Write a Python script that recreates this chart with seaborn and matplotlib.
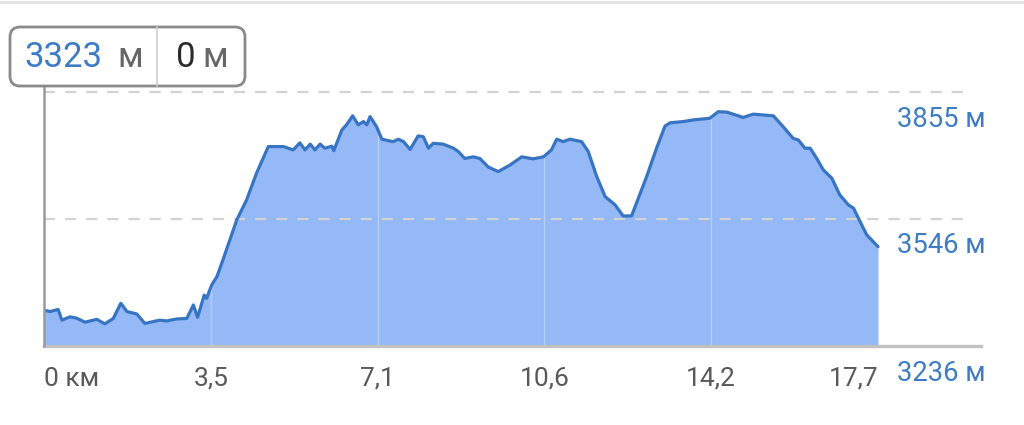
import pandas as pd
import matplotlib
matplotlib.use("Agg")
import matplotlib.pyplot as plt
import matplotlib.transforms as mtransforms
from matplotlib.patches import FancyBboxPatch
from matplotlib.lines import Line2D
import seaborn as sns

# elevation profile: distance (km) / elevation (m)
distance_km = [0.00, 0.13, 0.30, 0.38, 0.55, 0.69, 0.87, 1.12, 1.29, 1.47,
               1.63, 1.76, 1.97, 2.14, 2.46, 2.60, 2.82, 3.03, 3.17, 3.26,
               3.40, 3.45, 3.56, 3.67, 3.81, 4.09, 4.30, 4.51, 4.76, 5.08,
               5.29, 5.43, 5.54, 5.65, 5.75, 5.86, 5.96, 6.11, 6.15, 6.32,
               6.42, 6.55, 6.67, 6.78, 6.85, 6.92, 7.06, 7.17, 7.41, 7.52,
               7.63, 7.77, 7.94, 8.05, 8.16, 8.26, 8.47, 8.69, 8.79, 8.93,
               9.11, 9.25, 9.43, 9.64, 9.89, 10.14, 10.38, 10.60, 10.77, 10.88,
               11.02, 11.16, 11.41, 11.55, 11.73, 11.91, 12.12, 12.29, 12.47, 12.79,
               13.00, 13.18, 13.29, 13.57, 13.78, 14.13, 14.31, 14.49, 14.84, 15.05,
               15.48, 15.69, 15.90, 16.01, 16.15, 16.26, 16.40, 16.54, 16.72, 16.89,
               17.07, 17.18, 17.32, 17.46, 17.70]
elevation_m = [3323, 3320, 3325, 3299, 3307, 3304, 3294, 3301, 3290, 3303,
               3340, 3320, 3314, 3291, 3299, 3297, 3302, 3303, 3336, 3306,
               3360, 3352, 3385, 3405, 3450, 3543, 3592, 3657, 3722, 3722,
               3714, 3731, 3714, 3728, 3714, 3728, 3718, 3723, 3712, 3762,
               3775, 3797, 3775, 3783, 3775, 3795, 3770, 3740, 3734, 3740,
               3734, 3715, 3748, 3746, 3718, 3730, 3728, 3718, 3710, 3693,
               3697, 3693, 3672, 3661, 3677, 3697, 3692, 3697, 3714, 3740,
               3734, 3740, 3734, 3710, 3649, 3600, 3580, 3553, 3553, 3649,
               3718, 3772, 3780, 3783, 3787, 3791, 3807, 3806, 3793, 3801,
               3797, 3770, 3742, 3738, 3718, 3718, 3693, 3665, 3645, 3604,
               3580, 3572, 3539, 3507, 3478]

x_ticks = [0, 3.54, 7.08, 10.62, 14.16, 17.7]
x_labels = ["0 км", "3,5", "7,1", "10,6", "14,2", "17,7"]
y_levels = [3236, 3546, 3855]
y_labels = ["3236 м", "3546 м", "3855 м"]
cursor_elev = "3323"
cursor_dist = "0"

FILL = "#94b9f6"
LINE = "#3874c4"
BLUE_TXT = "#3d7cc4"
GRAY_TXT = "#595959"

sns.set_style("white")
plt.rcParams["font.family"] = ["Roboto", "DejaVu Sans"]

fig = plt.figure(figsize=(10.24, 4.25), dpi=100)
ax = fig.add_axes([44 / 1024, 1 - 346 / 425, 937 / 1024, 254 / 425])

df = pd.DataFrame({"km": distance_km, "elev": elevation_m})
ax.fill_between(df["km"], df["elev"], y_levels[0], color=FILL, lw=0, zorder=1)
sns.lineplot(data=df, x="km", y="elev", ax=ax, color=LINE, lw=2.3, zorder=3)

ax.set_xlim(0, x_ticks[-1] * 937 / 834)
ax.set_ylim(y_levels[0], y_levels[-1])
ax.set_xlabel("")
ax.set_ylabel("")
ax.set_yticks([])

for s in ["top", "left", "right"]:
    ax.spines[s].set_visible(False)
ax.spines["bottom"].set_color("#c2c2c2")
ax.spines["bottom"].set_linewidth(2.4)

# dashed guide lines
for y in y_levels[1:]:
    ax.axhline(y, xmax=(970 - 44) / 937, color="#d2d2d2", lw=1.6,
               ls=(0, (5, 4.5)), zorder=2, clip_on=False)

# faint vertical lines inside the fill
ax.vlines(x_ticks[1:-1], y_levels[0], y_levels[-1], color="white", alpha=0.3, lw=1, zorder=2)

# cursor line at the start
ax.axvline(0, ymin=0, ymax=(346 - 87) / 254, color="#9a9a9a", lw=1.8, zorder=4, clip_on=False)

ax.set_xticks(x_ticks, x_labels)
ax.tick_params(axis="x", length=7, width=1.5, color="#b5b5b5", pad=8,
               labelsize=19, labelcolor=GRAY_TXT)
lbls = ax.get_xticklabels()
lbls[0].set_ha("left")
lbls[-1].set_ha("right")

# elevation labels under their lines
trans = mtransforms.blended_transform_factory(ax.transAxes, ax.transData) + \
    mtransforms.ScaledTranslation(0, -0.27, fig.dpi_scale_trans)
for y, lab in zip(y_levels, y_labels):
    ax.text((897 - 44) / 937, y, lab, transform=trans, ha="left", va="center",
            fontsize=19.7, color=BLUE_TXT, clip_on=False)

# tooltip box
box = FancyBboxPatch((0.10, 3.39), 2.35, 0.59, boxstyle="round,pad=0,rounding_size=0.1",
                     transform=fig.dpi_scale_trans, facecolor="white",
                     edgecolor="#8a8a8a", lw=2)
fig.add_artist(box)
fig.add_artist(Line2D([1.57, 1.57], [3.39, 3.98], transform=fig.dpi_scale_trans,
                      color="#d0d0d0", lw=1.2))
tt = fig.dpi_scale_trans
fig.text(0.24, 3.675, cursor_elev, transform=tt, ha="left", va="center", fontsize=25, color=BLUE_TXT)
fig.text(1.17, 3.675, "м", transform=tt, ha="left", va="center", fontsize=25, color="#666666")
fig.text(1.76, 3.675, cursor_dist, transform=tt, ha="left", va="center", fontsize=25, color="#2b2b2b")
fig.text(2.02, 3.675, "м", transform=tt, ha="left", va="center", fontsize=25, color="#666666")

# faint line along the top edge
fig.add_artist(Line2D([0, 1], [0.995, 0.995], transform=fig.transFigure, color="#e2e2e2", lw=2))

fig.savefig("out.png", dpi=100)
